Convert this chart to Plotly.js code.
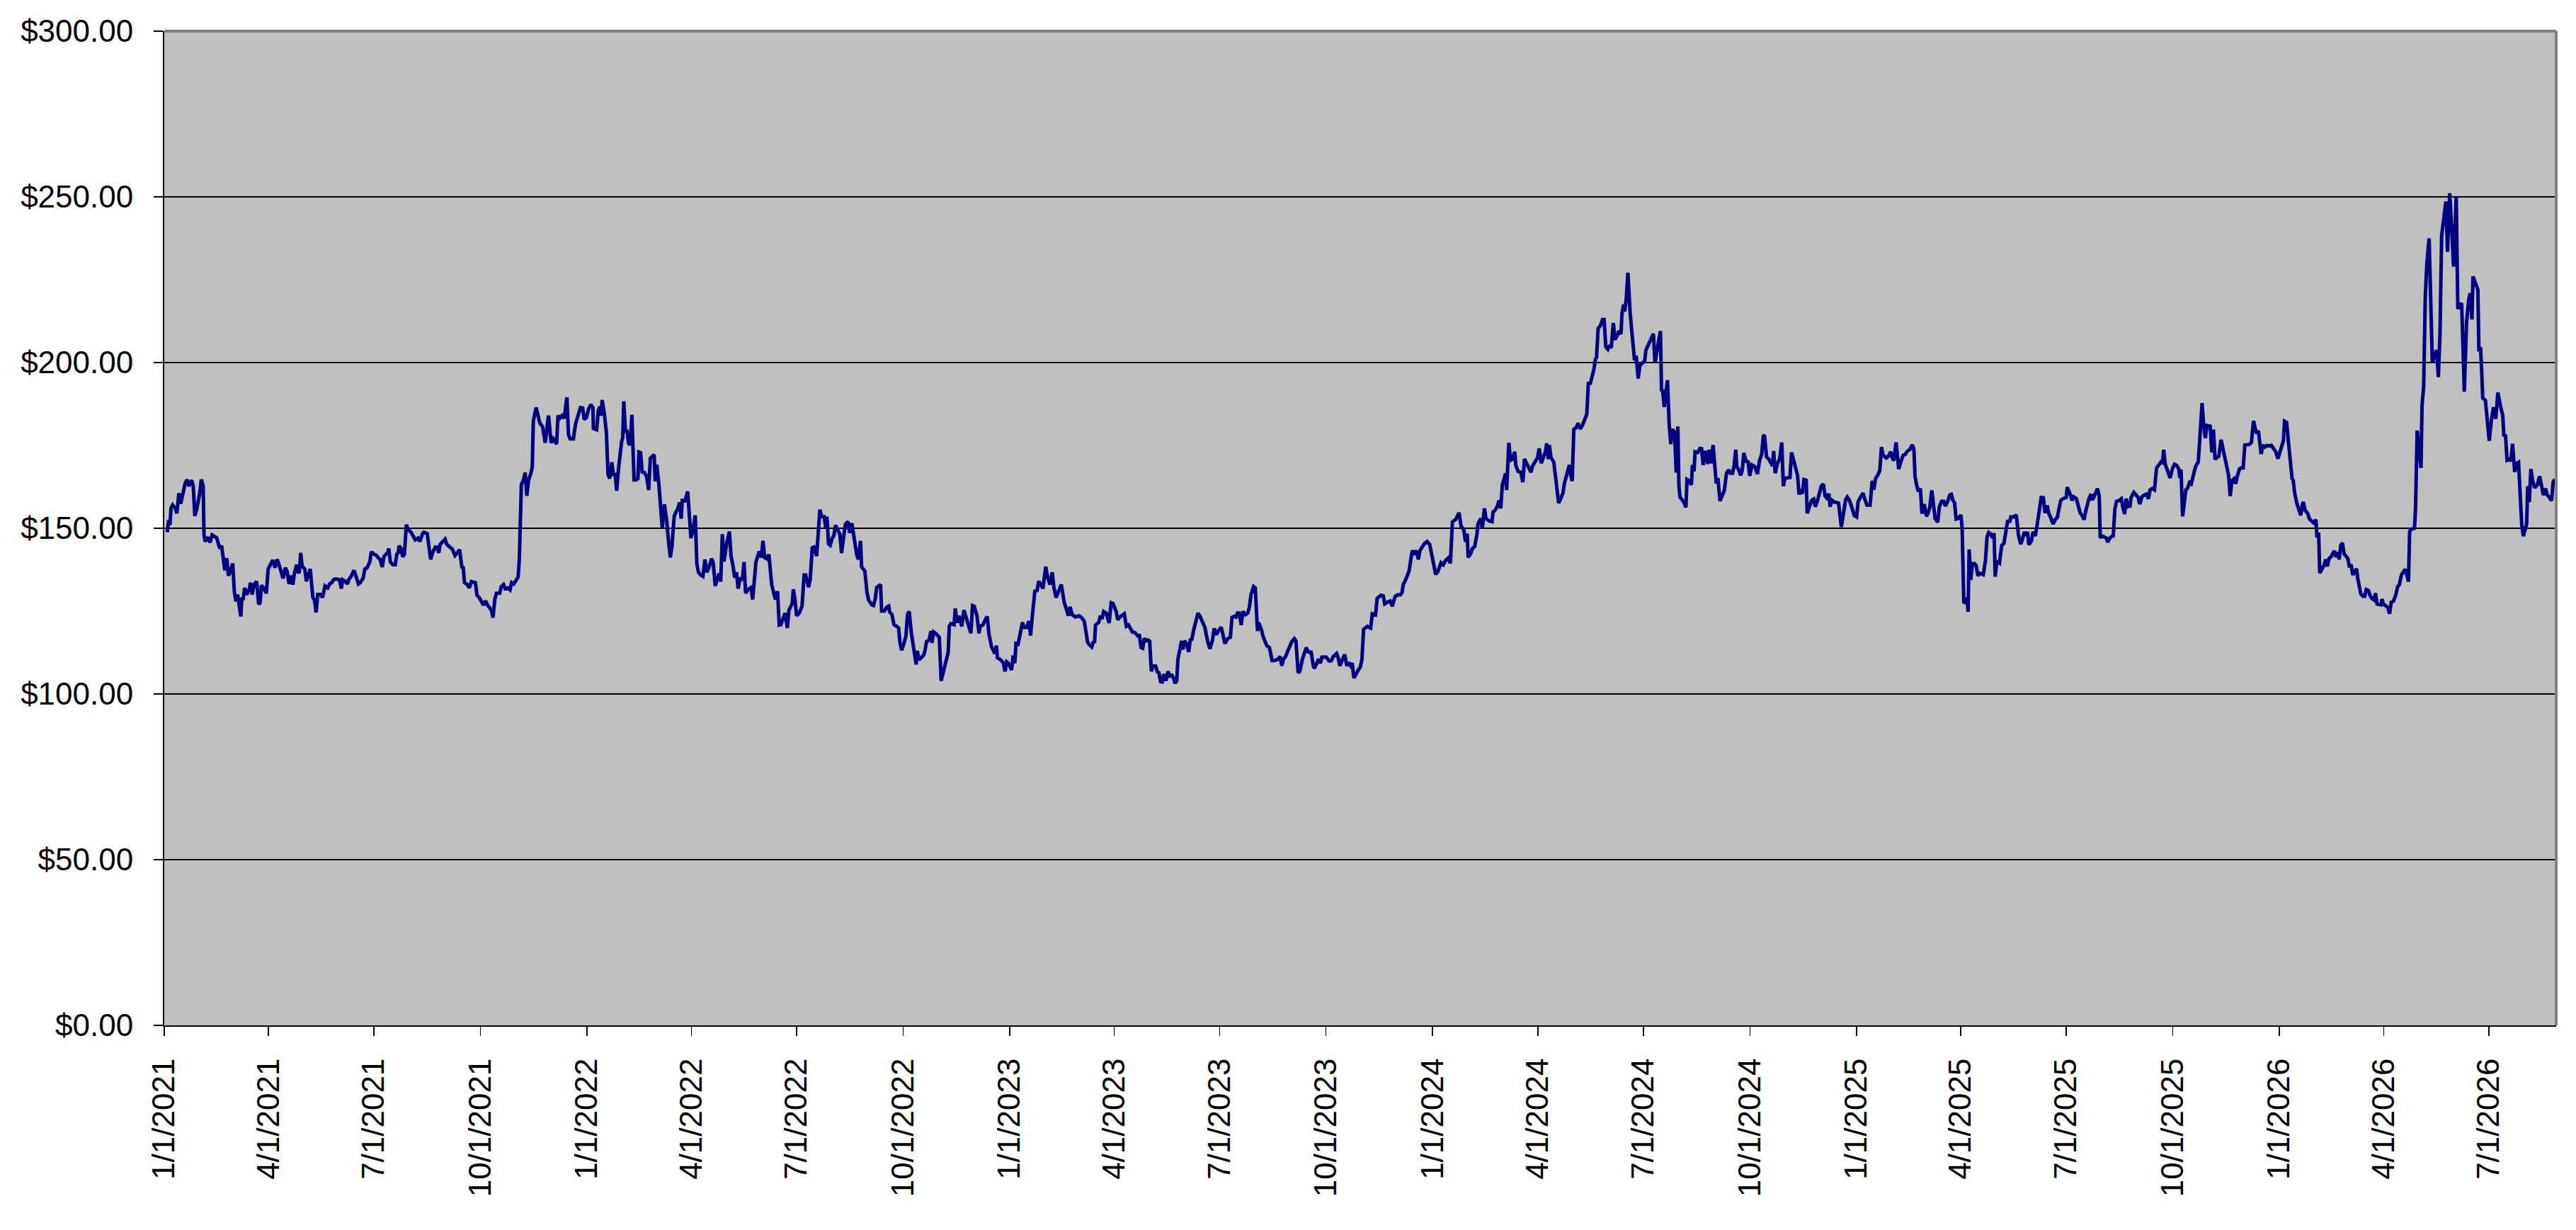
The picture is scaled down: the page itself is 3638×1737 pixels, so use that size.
<!DOCTYPE html>
<html>
<head>
<meta charset="utf-8">
<script src="https://cdn.plot.ly/plotly-3.0.1.min.js"></script>
<style>
  html, body { margin: 0; padding: 0; background: #fff; }
  #chart { width: 3638px; height: 1737px; }
</style>
</head>
<body>
<div id="chart"></div>
<script>
// days since 1/1/2021 and closing price
const days2021 = [
  2.5,3.9,4.9,5.8,7.2,9.5,10.9,12.6,14.2,16.1,
  18.0,19.6,21.2,23.6,25.0,26.4,28.2,30.6,32.0,33.6,
  34.3,35.3,37.6,39.5,41.3,45.3,46.9,47.9,49.5,50.7,
  52.3,54.0,55.4,57.0,59.1,60.5,61.9,63.3,66.1,67.0,
  68.0,69.4,71.3,73.4,74.5,75.9,77.3,79.7,81.5,82.7,
  83.9,86.2,88.1,89.7,92.1,93.7,95.6,97.4,99.1,100.7,
  102.6,104.5,106.1,107.7,109.6,111.0,112.4,114.3,115.7,116.6,
  117.8,119.0,121.3,122.7,124.1,126.0,128.3,129.7,131.1,132.5,
  134.9,136.7,138.8,141.2,142.8,144.7,146.1,148.2,151.2,152.9,
  154.0,156.4,158.2,159.2,161.0,163.8,165.7,167.6,169.2,171.6,
  173.2,175.1,177.4,178.8,180.9,183.2,184.9,186.3,188.2,189.6,
  191.4,192.8,193.8,195.2,197.3,199.4,200.8,202.0,202.7,204.3,
  205.9,207.3,209.0,210.6,213.0,214.3,216.7,219.0,220.7,223.0,
  224.2,227.0,228.4,230.0,231.6,234.0,235.4,237.0,238.2,240.1,
  242.4,244.0,246.4,248.7,251.0,252.7,255.0,256.9,258.1,259.2,
  261.6,263.4,265.1,268.6,270.0,272.1,274.0,275.6,277.5,279.3,
  281.2,282.6,283.8,285.4,286.8,289.6,291.0,292.9,294.3,296.6,
  298.5,299.9,301.8,303.6,305.5,306.5,307.4,308.3,310.2,311.6,
  313.0,314.4,316.3,317.7,318.6,321.0,322.4,324.2,326.6,328.9,
  331.7,334.0,335.9,338.7,339.9,341.5,343.4,345.3,347.6,349.0,
  350.4,353.2,355.1
];
const prices2021 = [
  148.8,152.5,151.0,156.0,157.0,156.0,154.5,160.6,157.4,160.6,
  163.5,164.7,162.7,164.5,162.7,153.7,156.0,160.6,164.7,162.7,
  148.0,146.0,147.3,145.7,148.0,147.1,144.7,143.9,144.7,141.4,
  137.3,141.0,135.7,136.9,139.4,130.8,127.9,130.0,123.4,129.1,
  128.3,132.0,130.0,131.6,133.6,130.0,132.8,134.0,127.1,127.5,
  132.8,131.6,130.4,137.7,139.4,140.4,138.1,140.6,139.0,137.3,
  134.9,138.1,136.9,133.2,135.7,133.0,136.5,139.0,136.5,136.9,
  142.6,138.5,137.7,134.0,135.3,137.7,129.1,128.3,124.6,130.0,
  130.0,129.1,132.6,132.0,133.2,133.6,134.5,134.7,134.5,131.8,
  134.5,134.0,133.2,134.5,135.3,137.3,135.3,133.2,133.6,134.9,
  137.7,138.1,139.8,142.9,142.2,141.8,141.0,140.6,138.3,141.4,
  142.2,142.4,143.9,139.8,139.0,139.0,142.2,142.6,144.7,144.0,
  141.4,142.2,151.1,149.6,148.8,148.0,146.5,147.0,146.0,148.4,
  148.8,148.4,143.9,140.6,142.6,144.3,144.3,142.6,145.1,145.7,
  146.7,145.1,144.3,143.7,141.8,142.6,143.5,138.3,138.1,133.6,
  133.0,132.0,133.9,133.6,129.8,129.0,127.9,126.8,128.1,126.7,
  125.9,125.0,123.0,128.7,130.4,130.4,132.4,133.0,131.8,132.0,
  131.4,133.6,133.2,134.5,135.3,140.6,157.0,163.1,164.7,166.8,
  159.8,164.3,166.4,168.4,182.3,186.4,184.4,181.7,180.7,175.8,
  184.0,175.8,177.0,175.4,184.0,183.2,184.0,183.2,189.5,178.2,
  177.0,177.0,181.5
];

const days2022 = [
  359.3,361.2,362.6,364.4,366.3,368.2,370.1,370.5,373.3,374.7,
  376.1,377.1,378.0,379.9,381.7,383.1,384.6,386.4,387.8,389.2,
  390.6,392.0,393.4,394.8,395.8,396.7,398.1,399.5,400.9,402.3,
  403.7,405.6,407.5,408.9,409.8,411.2,412.6,414.5,416.3,418.2,
  419.6,421.0,422.9,423.8,425.2,427.1,428.5,429.9,431.8,433.6,
  435.1,436.9,438.3,440.2,441.6,443.5,444.9,446.3,447.2,449.5,
  451.9,453.3,454.7,456.6,458.4,459.8,461.2,463.1,465.0,466.8,
  468.3,470.1,472.5,473.9,475.7,477.1,479.0,480.4,481.8,483.2,
  485.5,487.9,489.3,490.7,492.6,494.0,495.4,497.2,499.1,500.5,
  501.9,504.3,506.6,508.0,509.4,510.8,513.6,515.5,516.9,518.3,
  520.2,522.0,524.4,526.2,527.6,529.5,530.9,532.3,534.2,536.0,
  537.9,539.3,542.1,543.1,544.5,545.9,548.2,550.6,552.4,553.8,
  556.2,557.6,559.4,560.8,563.2,566.0,567.4,569.7,571.1,572.1,
  573.5,574.9,576.7,578.1,579.5,581.4,583.3,584.7,586.6,588.0,
  590.3,591.7,593.6,595.9,597.8,599.2,601.1,602.0,604.8,606.7,
  608.1,610.9,612.3,613.7,615.1,618.4,619.3,621.6,623.5,625.4,
  626.3,628.2,630.0,632.4,634.0,635.2,636.6,638.7,640.3,641.7,
  643.1,645.0,646.9,648.3,649.2,650.1,651.6,653.9,655.7,656.7,
  658.1,660.4,661.8,662.8,664.2,666.0,669.1,670.7,672.6,675.4,
  676.8,677.7,679.1,681.9,682.9,684.3,686.1,688.5,690.4,692.2,
  695.0,696.4,697.8,699.2,701.6,703.4,704.4,706.7,709.1,710.5,
  711.9,714.2,717.0,718.4,719.3,722.2,724.5
];
const prices2022 = [
  186.4,186.3,182.8,183.4,185.9,187.3,186.3,180.1,179.7,185.5,
  186.7,184.0,188.7,184.6,178.9,166.2,165.0,169.9,165.8,166.6,
  161.3,167.4,172.4,176.0,177.3,188.3,179.3,179.3,175.6,175.2,
  184.2,164.6,164.6,165.0,173.0,172.8,167.0,166.8,165.8,161.5,
  171.1,171.7,172.2,164.2,169.2,162.9,156.0,150.1,157.2,152.7,
  147.0,141.2,144.5,153.5,154.8,156.0,157.8,152.9,158.4,158.3,
  161.1,152.7,147.0,149.8,153.9,139.2,136.7,135.9,135.5,140.6,
  136.7,138.0,140.8,139.6,132.6,134.3,136.3,133.9,148.2,140.0,
  145.3,149.0,141.6,139.2,135.1,136.7,131.8,135.1,134.3,139.8,
  130.4,131.6,132.1,128.5,133.9,139.8,143.0,141.2,146.2,141.2,
  140.8,142.1,133.0,129.8,128.5,131.0,120.8,120.9,122.8,124.4,
  119.9,125.3,127.3,131.6,128.5,123.6,124.4,126.5,135.9,135.9,
  132.2,134.3,144.1,144.3,141.6,155.6,153.7,153.5,150.1,153.5,
  145.3,144.9,147.0,147.8,150.9,149.6,148.2,142.5,147.8,151.2,
  152.0,148.6,151.5,146.2,142.1,140.6,146.2,138.4,137.1,130.6,
  128.3,126.9,126.7,128.5,132.2,133.0,125.0,125.0,126.1,126.5,
  124.7,124.0,120.9,120.4,119.9,115.4,113.2,115.4,117.5,124.0,
  124.9,118.3,113.8,109.7,108.9,113.0,110.3,111.1,111.8,113.0,
  115.8,116.3,119.0,115.4,118.7,118.3,117.1,104.0,106.8,110.5,
  112.6,120.4,121.2,120.9,125.8,121.5,123.6,120.4,125.3,123.2,
  119.5,118.3,126.7,126.5,123.6,118.3,120.4,120.8,122.6,123.4,
  118.3,114.2,112.2,114.6,110.9,110.3,109.3
];

const days2023 = [
  725.9,727.3,728.7,731.5,732.9,734.3,735.3,737.1,739.0,740.9,
  742.3,744.6,746.5,747.9,749.3,751.6,753.5,754.9,756.8,758.6,
  761.0,762.4,764.7,766.6,768.0,769.9,771.7,774.5,776.9,778.7,
  780.6,782.0,783.9,786.7,789.5,791.8,794.2,795.6,797.0,798.4,
  800.7,802.1,803.1,804.0,806.8,808.2,809.6,811.0,813.3,815.7,
  817.5,819.0,821.8,823.2,825.5,828.8,830.6,832.5,833.9,835.8,
  838.1,840.5,841.9,843.3,844.7,846.1,847.5,849.3,850.7,852.2,
  853.6,855.9,857.3,858.7,860.1,861.5,862.9,864.8,866.6,868.1,
  869.9,871.3,872.7,874.1,875.1,876.5,878.3,879.3,880.7,882.1,
  884.4,885.8,887.2,888.6,891.0,892.4,894.2,896.1,898.4,900.8,
  902.7,905.0,906.4,908.3,910.1,912.5,914.3,915.7,918.1,920.4,
  921.8,923.7,925.1,926.5,927.9,929.8,931.2,933.5,935.4,936.8,
  938.2,939.6,940.5,941.9,942.9,943.8,944.7,947.1,948.5,950.3,
  951.8,954.1,956.4,958.8,961.6,963.4,964.8,966.2,968.1,970.0,
  971.4,973.3,975.6,977.0,978.9,980.3,982.6,984.5,985.9,987.7,
  990.1,992.0,992.9,994.8,996.6,998.0,999.4,1003.2,1005.5,1007.4,
  1009.3,1012.1,1013.5,1014.9,1017.2,1019.1,1020.9,1022.4,1024.2,1025.6,
  1027.0,1028.9,1030.8,1032.6,1034.0,1035.4,1036.8,1038.7,1040.1,1041.5,
  1042.9,1044.8,1045.7,1047.1,1049.0,1050.4,1052.3,1053.7,1056.0,1058.4,
  1060.2,1061.6,1062.6,1064.9,1067.2,1068.6,1069.6,1071.0,1072.9,1074.7,
  1076.1,1077.5,1079.4,1080.8,1082.7,1084.1,1086.0,1087.8,1090.2
];
const prices2023 = [
  106.8,109.7,109.3,107.2,111.6,109.3,115.2,115.0,117.9,121.6,
  120.1,120.1,122.0,117.6,123.2,131.0,131.2,134.0,133.0,131.8,
  138.4,135.5,133.0,136.7,132.2,129.1,130.6,133.0,127.7,125.7,
  123.6,126.3,123.9,123.2,123.6,123.1,122.0,119.1,115.8,114.9,
  114.2,115.8,115.4,120.8,121.6,123.6,122.6,124.9,124.4,121.4,
  127.5,127.3,124.9,122.4,123.4,124.2,120.4,120.8,119.9,118.7,
  118.5,117.5,117.6,114.0,113.8,116.8,116.0,116.3,116.0,106.8,
  108.6,108.4,106.7,106.4,103.7,103.6,106.0,104.0,106.8,105.4,
  105.6,104.8,103.2,104.0,110.5,112.7,116.0,113.4,116.0,115.4,
  112.7,116.3,116.5,119.1,122.0,124.4,123.4,121.7,120.1,115.8,
  113.6,116.3,119.8,117.9,119.1,120.1,117.1,115.2,116.7,117.1,
  123.1,123.4,123.2,124.4,124.4,120.8,124.9,123.9,124.4,126.1,
  129.9,131.4,132.4,132.0,126.5,119.0,121.6,119.5,117.5,115.7,
  114.6,114.0,110.1,110.1,110.5,111.3,108.5,110.5,111.3,113.0,
  114.2,115.7,116.7,116.0,106.4,106.8,110.5,112.7,114.0,112.7,
  112.6,108.5,107.7,109.1,110.5,109.3,111.1,111.1,110.0,110.0,
  111.3,112.2,110.9,108.5,110.1,111.9,108.5,109.5,108.5,109.3,
  104.8,106.2,107.2,108.1,110.5,119.5,119.8,120.4,120.1,119.9,
  124.2,124.0,123.9,128.8,129.4,129.8,129.6,127.2,127.7,128.0,
  126.5,128.0,129.4,129.9,129.9,130.6,133.0,133.9,135.9,137.1,
  140.4,143.3,142.1,143.3,140.6,143.3,144.3,145.3,146.0
];

const days2024 = [
  1092.5,1095.3,1097.6,1099.5,1102.3,1104.2,1106.1,1108.4,1110.3,1112.1,
  1115.0,1117.8,1119.6,1121.9,1123.4,1124.8,1125.7,1127.6,1129.4,1131.3,
  1133.2,1134.1,1136.5,1137.9,1139.7,1141.1,1143.9,1146.3,1147.2,1149.1,
  1151.0,1152.4,1153.8,1155.2,1157.0,1158.0,1158.9,1160.8,1162.2,1164.0,
  1165.9,1166.8,1168.7,1171.1,1172.9,1174.3,1176.2,1178.1,1179.9,1181.3,
  1183.7,1185.6,1187.0,1188.8,1190.7,1192.6,1193.5,1194.9,1195.8,1197.2,
  1199.6,1201.0,1202.4,1203.8,1205.2,1207.5,1208.9,1210.8,1213.1,1214.1,
  1215.5,1216.9,1218.8,1220.6,1222.5,1224.4,1226.2,1228.1,1229.5,1230.9,
  1232.3,1234.2,1235.6,1236.5,1237.9,1239.8,1241.7,1243.1,1244.5,1246.3,
  1247.7,1249.2,1251.0,1252.4,1254.3,1255.7,1257.6,1258.5,1259.9,1260.8,
  1262.2,1263.6,1265.5,1267.4,1269.3,1270.7,1272.5,1273.9,1276.3,1278.1,
  1279.1,1280.9,1282.8,1284.2,1285.6,1287.0,1288.4,1290.3,1291.7,1292.6,
  1293.6,1295.0,1296.4,1297.8,1299.2,1300.6,1302.0,1303.9,1305.3,1306.7,
  1307.6,1308.5,1310.4,1312.3,1313.7,1314.6,1316.5,1318.4,1319.3,1320.7,
  1321.6,1324.0,1325.8,1327.2,1328.6,1330.0,1331.4,1332.4,1333.8,1335.7,
  1337.1,1338.5,1339.9,1341.3,1343.1,1345.0,1346.9,1348.7,1350.6,1352.0,
  1353.9,1355.3,1356.7,1357.6,1359.0,1360.9,1362.3,1363.7,1365.6,1367.4,
  1368.8,1370.7,1373.1,1375.4,1377.3,1379.1,1380.5,1381.5,1383.3,1385.2,
  1387.1,1388.5,1389.4,1390.8,1392.7,1394.6,1396.4,1397.8,1399.2,1401.6,
  1403.5,1404.9,1406.7,1408.6,1410.0,1411.4,1412.8,1414.2,1415.6,1417.5,
  1418.4,1420.3,1422.2,1424.0,1425.4,1427.3,1429.2,1430.6,1432.4,1433.8,
  1435.2,1437.1,1438.1,1439.9,1441.8,1443.2,1445.5,1446.5,1447.9,1449.7,
  1451.6,1453.0,1454.9,1457.2
];
const prices2024 = [
  145.1,140.2,136.1,136.9,139.6,139.0,140.2,141.0,139.4,151.9,
  152.7,154.7,150.6,149.6,145.9,148.4,141.2,142.2,143.9,144.5,
  148.0,151.2,153.0,150.0,156.0,152.9,152.2,152.0,154.9,155.5,
  156.8,158.4,156.0,163.1,166.0,166.6,161.5,175.8,170.5,170.9,
  173.1,169.1,167.2,166.9,163.9,170.9,169.6,168.0,166.9,168.8,
  170.2,171.3,174.1,169.6,171.5,173.3,175.6,170.9,175.1,171.3,
  170.0,165.5,161.0,157.6,158.6,160.6,163.7,166.1,169.1,166.4,
  164.2,179.9,180.3,181.7,180.0,181.1,183.0,184.4,194.2,193.4,
  195.2,197.9,201.1,201.5,210.3,211.1,213.0,213.0,204.8,204.0,
  205.2,204.4,211.9,206.9,208.1,209.5,208.6,214.9,217.5,215.4,
  219.3,227.1,215.0,208.1,200.7,202.1,195.2,199.1,199.9,200.5,
  203.7,205.2,207.0,208.1,208.7,199.9,203.4,206.9,209.5,191.7,
  191.5,186.6,191.1,194.7,181.5,175.4,179.9,178.9,166.8,180.7,
  163.1,159.4,158.6,157.6,156.3,164.7,164.3,163.1,169.1,167.2,
  173.1,172.9,174.1,174.0,169.1,173.3,172.3,169.4,173.7,169.6,
  175.1,169.6,163.5,165.1,158.2,159.8,161.5,166.6,167.6,166.6,
  166.6,168.8,173.7,168.6,167.8,166.0,167.4,172.7,170.2,170.0,
  165.8,169.1,168.6,166.4,170.5,172.3,177.8,178.1,171.5,170.9,
  169.6,168.8,173.3,166.6,169.6,170.9,175.9,162.7,165.1,165.3,
  165.3,172.9,170.5,168.4,166.1,160.2,161.7,160.4,164.7,164.5,
  154.5,156.5,158.4,158.8,156.5,158.4,160.6,162.8,163.3,159.8,
  159.2,160.4,156.5,158.4,157.9,157.8,157.6,154.5,150.4,154.5,
  158.6,159.4,158.4,156.0
];

const days2025 = [
  1459.1,1461.0,1462.4,1464.7,1466.6,1468.0,1469.9,1472.7,1474.5,1475.9,
  1477.3,1479.7,1481.1,1482.5,1483.9,1486.7,1488.6,1490.4,1491.8,1493.2,
  1495.1,1496.5,1497.4,1499.3,1501.2,1503.1,1504.5,1507.3,1509.1,1510.5,
  1511.5,1512.9,1514.3,1516.1,1517.5,1519.4,1521.3,1522.7,1524.1,1526.0,
  1527.4,1528.8,1531.1,1532.5,1534.4,1536.3,1537.7,1539.5,1541.4,1542.8,
  1544.2,1545.6,1547.0,1548.9,1551.2,1552.2,1553.6,1555.0,1556.4,1557.3,
  1558.2,1559.6,1561.0,1562.9,1564.3,1565.7,1567.6,1570.4,1572.3,1573.7,
  1575.1,1576.5,1578.3,1579.7,1580.7,1582.1,1584.4,1586.3,1588.2,1589.6,
  1591.4,1593.3,1594.2,1596.6,1598.9,1600.8,1602.7,1604.1,1605.9,1607.3,
  1608.7,1609.7,1612.0,1613.4,1615.3,1616.7,1619.0,1620.4,1622.3,1623.7,
  1625.6,1627.0,1628.4,1630.7,1632.6,1634.4,1635.9,1637.3,1639.1,1642.0,
  1642.9,1643.8,1645.7,1647.1,1648.5,1650.8,1652.2,1654.1,1655.5,1657.4,
  1658.8,1660.2,1661.6,1663.4,1664.4,1665.8,1667.7,1669.0,1670.5,1671.4,
  1672.8,1674.7,1676.5,1677.9,1679.3,1681.2,1682.6,1684.0,1685.4,1687.8,
  1689.6,1691.0,1692.4,1693.8,1695.2,1697.1,1698.0,1700.4,1702.3,1704.1,
  1705.5,1707.4,1709.3,1711.2,1713.0,1714.4,1716.3,1718.2,1720.0,1721.9,
  1723.8,1725.2,1726.1,1727.5,1729.4,1731.7,1733.6,1735.5,1737.3,1739.2,
  1740.1,1741.1,1742.5,1743.9,1745.3,1746.7,1748.5,1750.0,1751.4,1752.8,
  1754.2,1756.0,1757.5,1759.3,1760.7,1762.1,1763.5,1766.3,1767.7,1769.1,
  1770.5,1772.4,1773.8,1775.7,1777.1,1778.9,1780.8,1782.2,1783.6,1785.0,
  1786.9,1788.3,1789.7,1791.6,1793.0,1794.8,1796.2,1798.1,1800.0,1801.9,
  1802.8,1803.7,1805.1,1806.5,1807.9,1808.9,1810.3,1811.7,1813.5,1815.4,
  1817.3,1819.1,1821.0,1822.9,1824.8
];
const prices2025 = [
  153.8,153.4,158.1,159.5,160.6,158.9,157.0,157.0,164.3,161.6,
  164.9,166.3,167.5,174.5,172.0,171.2,171.8,173.1,171.2,170.4,
  175.9,171.2,167.9,170.1,172.0,172.3,173.1,173.9,175.2,173.9,
  165.5,163.0,161.1,162.0,154.4,157.3,153.6,154.6,156.2,161.4,
  157.0,152.9,151.8,156.5,158.1,158.1,156.7,157.9,160.0,160.2,
  158.4,157.7,152.8,153.0,154.0,149.5,127.4,127.8,129.0,124.8,
  143.6,134.4,139.3,139.3,138.7,135.7,136.4,136.0,140.3,147.5,
  148.7,148.3,147.1,148.5,135.4,140.1,139.5,144.8,145.4,148.3,
  152.1,152.1,153.4,153.4,154.0,147.9,145.2,146.6,148.9,147.7,
  148.9,145.0,146.2,148.9,147.7,150.5,155.7,159.3,159.2,154.6,
  156.9,154.4,153.4,151.3,152.6,153.4,156.1,158.4,158.9,159.3,
  162.4,161.8,160.0,158.4,159.5,158.9,157.0,154.6,154.0,152.6,
  155.1,157.3,158.9,160.3,158.5,159.3,161.0,162.0,159.7,147.1,
  147.7,147.5,147.1,145.8,146.9,147.5,147.7,155.7,158.1,158.4,
  158.9,156.2,154.3,158.9,156.5,156.7,159.3,160.8,160.0,159.3,
  157.3,159.5,160.0,160.3,158.9,161.6,162.0,161.6,168.2,169.0,
  170.0,169.8,173.7,169.3,167.4,165.2,167.9,169.3,169.0,167.9,
  165.2,167.7,153.6,157.3,161.6,162.0,163.8,163.4,165.7,167.5,
  169.0,170.0,177.8,187.8,181.0,177.2,181.0,180.8,172.9,179.8,
  170.8,171.2,171.8,176.7,174.1,170.8,167.1,165.9,159.7,164.3,
  164.9,163.4,165.7,167.9,168.2,168.2,175.1,175.1,175.3,175.9,
  178.2,182.4,180.2,178.6,179.4,176.1,172.4,175.1,174.5,175.0,
  174.8,175.0,174.1,173.1,171.0
];

const days2026 = [
  1826.3,1827.7,1829.5,1830.5,1832.3,1833.7,1835.6,1837.0,1838.0,1839.3,
  1841.2,1843.1,1844.5,1845.9,1846.8,1848.2,1850.6,1852.0,1853.8,1855.7,
  1857.6,1858.5,1859.9,1860.9,1862.7,1864.6,1866.0,1867.4,1868.8,1870.7,
  1872.1,1873.5,1874.9,1876.3,1877.7,1879.1,1880.5,1881.9,1883.3,1885.2,
  1886.6,1888.0,1889.4,1891.3,1892.7,1893.6,1895.0,1896.4,1898.3,1899.7,
  1901.1,1903.0,1904.3,1905.7,1907.6,1909.0,1910.4,1912.3,1913.7,1914.6,
  1916.0,1917.9,1919.8,1921.2,1922.6,1924.5,1926.3,1928.2,1929.6,1931.5,
  1933.3,1934.7,1936.1,1937.5,1938.5,1940.4,1942.7,1943.6,1945.0,1946.4,
  1948.3,1949.2,1950.6,1952.0,1953.4,1955.3,1956.7,1958.1,1960.0,1961.8,
  1963.3,1964.7,1966.1,1967.9,1969.8,1971.2,1973.1,1975.0,1976.4,1978.7,
  1980.1,1982.0,1983.4,1985.7,1987.6,1989.5,1990.8,1992.3,1993.2,1995.5,
  1997.4,1998.3,1999.7,2000.7,2001.6,2003.9,2005.3,2007.2,2009.1,2010.9,
  2012.8,2014.7,2017.0,2018.9,2019.8,2021.3,2022.6,2024.5,2025.9,2027.3,
  2029.2,2031.1,2032.5,2033.9,2035.3,2036.7,2038.1,2039.5,2040.4,2041.8,
  2043.2,2044.6,2046.5,2048.8,2050.7,2052.6,2054.0,2055.9,2057.3,2058.6,
  2061.0,2062.4,2063.8
];
const prices2026 = [
  172.5,174.0,176.4,182.3,181.9,176.6,171.0,165.0,164.4,160.5,
  157.4,154.8,153.9,157.2,157.9,155.4,154.4,152.8,152.2,151.6,
  152.6,147.2,148.7,136.5,137.6,138.8,140.6,138.5,140.8,141.4,
  142.3,143.2,141.3,142.8,140.6,144.9,145.6,142.3,141.7,140.8,
  138.2,139.1,135.9,137.3,137.8,135.0,133.0,130.1,129.5,129.5,
  131.5,131.2,129.7,128.9,128.4,130.4,127.1,126.9,126.9,128.6,
  127.1,126.6,126.0,124.2,127.7,128.0,129.7,132.4,133.0,136.0,
  136.9,137.6,135.9,133.9,149.1,149.8,150.0,156.1,179.5,173.7,
  168.2,187.1,192.8,219.7,230.1,237.5,213.3,199.9,202.4,203.7,
  195.6,208.5,238.2,243.4,248.6,233.4,251.1,239.0,229.0,250.0,
  216.2,217.4,217.9,191.2,212.0,219.0,220.9,213.0,226.0,223.8,
  222.0,203.4,204.6,197.3,189.3,188.6,184.0,176.4,182.7,186.5,
  183.0,191.0,186.7,184.0,178.1,177.9,170.5,170.8,170.3,175.5,
  167.0,169.6,169.9,157.0,150.9,147.6,149.6,151.3,162.7,157.9,
  167.9,164.4,162.2,163.1,165.7,162.7,160.0,162.0,160.0,159.6,
  158.3,164.0,164.8
];

const tickDates = [
  '2021-01-01','2021-04-01','2021-07-01','2021-10-01',
  '2022-01-01','2022-04-01','2022-07-01','2022-10-01',
  '2023-01-01','2023-04-01','2023-07-01','2023-10-01',
  '2024-01-01','2024-04-01','2024-07-01','2024-10-01',
  '2025-01-01','2025-04-01','2025-07-01','2025-10-01',
  '2026-01-01','2026-04-01','2026-07-01'
];
const tickLabels = [
  '1/1/2021','4/1/2021','7/1/2021','10/1/2021',
  '1/1/2022','4/1/2022','7/1/2022','10/1/2022',
  '1/1/2023','4/1/2023','7/1/2023','10/1/2023',
  '1/1/2024','4/1/2024','7/1/2024','10/1/2024',
  '1/1/2025','4/1/2025','7/1/2025','10/1/2025',
  '1/1/2026','4/1/2026','7/1/2026'
];
const priceTicks = [0, 50, 100, 150, 200, 250, 300];
const priceLabels = ['$0.00', '$50.00', '$100.00', '$150.00', '$200.00', '$250.00', '$300.00'];

const allDays = [].concat(days2021, days2022, days2023, days2024, days2025, days2026);
const allPrices = [].concat(prices2021, prices2022, prices2023, prices2024, prices2025, prices2026);

const t0 = Date.UTC(2021, 0, 1);
function dayToDate(d) {
    return new Date(t0 + d * 86400000).toISOString().replace('T', ' ').slice(0, 19);
}

const FONT = { family: 'Liberation Sans, Arial, sans-serif', size: 44, color: '#000' };

const trace = {
    x: allDays.map(dayToDate),
    y: allPrices,
    type: 'scatter',
    mode: 'lines',
    line: { color: '#000080', width: 5 },
    hoverinfo: 'skip'
};

const layout = {
    width: 3638,
    height: 1737,
    margin: { l: 232, r: 28, t: 44, b: 289, pad: 0 },
    paper_bgcolor: '#ffffff',
    plot_bgcolor: '#c0c0c0',
    showlegend: false,
    font: FONT,
    xaxis: {
        type: 'date',
        range: ['2021-01-01', '2026-08-28'],
        tickmode: 'array',
        tickvals: tickDates,
        ticktext: tickLabels,
        tickangle: -90,
        ticks: 'outside',
        ticklen: 13,
        tickwidth: 1.5,
        tickcolor: '#000',
        ticklabelstandoff: 14,
        tickfont: FONT,
        showgrid: false,
        zeroline: false,
        showline: true,
        linecolor: '#000',
        linewidth: 2
    },
    yaxis: {
        range: [0, 300],
        tickmode: 'array',
        tickvals: priceTicks,
        ticktext: priceLabels,
        ticks: 'outside',
        ticklen: 13,
        tickwidth: 1.5,
        tickcolor: '#000',
        ticklabelstandoff: 20,
        tickfont: FONT,
        showgrid: true,
        gridcolor: '#000',
        gridwidth: 1.1,
        zeroline: false,
        showline: true,
        linecolor: '#000',
        linewidth: 2
    },
    shapes: [
        // grey frame on the top and right edges of the plot area
        { type: 'line', xref: 'paper', yref: 'paper', x0: 0, x1: 1, y0: 1, y1: 1,
          line: { color: '#808080', width: 4 } },
        { type: 'line', xref: 'paper', yref: 'paper', x0: 1, x1: 1, y0: 0, y1: 1,
          line: { color: '#808080', width: 4 } }
    ]
};

Plotly.newPlot('chart', [trace], layout, { staticPlot: true, displayModeBar: false });
</script>
</body>
</html>
